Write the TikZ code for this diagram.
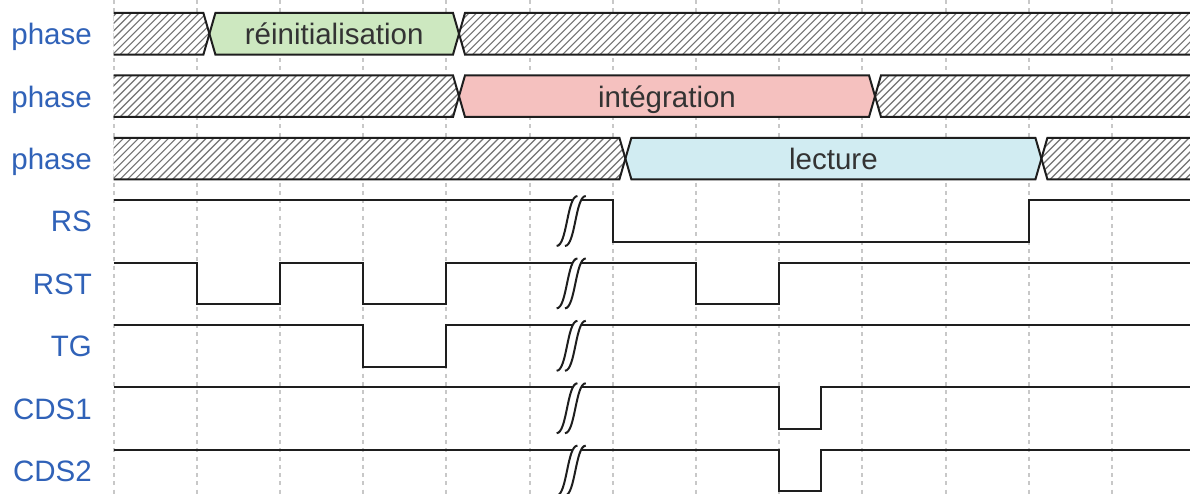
\documentclass[tikz,border=0pt]{standalone}
\usepackage{fontspec}
\setmainfont{Liberation Sans}
\definecolor{lblblue}{RGB}{48,98,184}
\definecolor{grn}{RGB}{205,232,192}
\definecolor{pnk}{RGB}{245,193,191}
\definecolor{blu}{RGB}{209,236,242}
\definecolor{gridc}{RGB}{200,200,200}
\definecolor{wavec}{RGB}{30,30,30}
\tikzset{
  lbl/.style={anchor=base east, inner sep=0pt, text=lblblue, font=\fontsize{29.5}{32}\selectfont},
  boxtxt/.style={anchor=base, inner sep=0pt, text=black!80, font=\fontsize{29.5}{32}\selectfont},
  gridline/.style={draw=gridc, line width=2pt, dash pattern=on 4pt off 4.3pt},
  wave/.style={draw=wavec, line width=2pt, line join=miter},
  hatchline/.style={draw=black!55, line width=1.2pt},
  outline/.style={draw=wavec, line width=2pt, line join=miter},
}
\newcommand{\hatchfill}[2]{%
  \begin{scope}
    \clip #1;
    \fill[white] (0,#2) rectangle (1200,{#2+41.6});
    \foreach \i in {-8,...,162} \draw[hatchline] ({\i*7.5},{#2+41.6}) -- ({\i*7.5+41.6},{#2});
  \end{scope}}
\newcommand{\gapsym}[1]{%
  \fill[white] (585.76,{#1-4.16}) -- (577.44,{#1-4.16}) .. controls (567.04,{#1-4.16}) and (567.04,{#1+45.76}) .. (556.64,{#1+45.76}) -- (564.96,{#1+45.76}) .. controls (575.36,{#1+45.76}) and (575.36,{#1-4.16}) .. (585.76,{#1-4.16}) -- cycle;
  \draw[wave] (556.64,{#1+45.76}) .. controls (567.04,{#1+45.76}) and (567.04,{#1-4.16}) .. (577.44,{#1-4.16});
  \draw[wave] (564.96,{#1+45.76}) .. controls (575.36,{#1+45.76}) and (575.36,{#1-4.16}) .. (585.76,{#1-4.16});}
\begin{document}
\begin{tikzpicture}[x=1pt,y=-1pt]
\useasboundingbox (0,0) rectangle (1190,494);
\clip (0,0) rectangle (1190,494);
\fill[white] (0,0) rectangle (1190,494);
% grid
\foreach \k in {0,...,12} \draw[gridline] ({113.6+83.2*\k},0) -- ({113.6+83.2*\k},494);
% ---- row 0 : reinitialisation
\hatchfill{(113.6,13) -- (203.4,13) -- (209.4,33.8) -- (203.4,54.6) -- (113.6,54.6) -- cycle}{13}
\fill[grn] (215.4,13) -- (453,13) -- (459,33.8) -- (453,54.6) -- (215.4,54.6) -- (209.4,33.8) -- cycle;
\hatchfill{(465,13) -- (1200,13) -- (1200,54.6) -- (465,54.6) -- (459,33.8) -- cycle}{13}
\draw[outline] (113.6,13) -- (203.4,13) -- (209.4,33.8) -- (203.4,54.6) -- (113.6,54.6);
\draw[outline] (215.4,13) -- (453,13) -- (459,33.8) -- (453,54.6) -- (215.4,54.6) -- (209.4,33.8) -- cycle;
\draw[outline] (1200,13) -- (465,13) -- (459,33.8) -- (465,54.6) -- (1200,54.6);
\node[boxtxt] (t0) at (334.2,44.8) {réinitialisation};
% ---- row 1 : integration
\hatchfill{(113.6,75.4) -- (453,75.4) -- (459,96.2) -- (453,117) -- (113.6,117) -- cycle}{75.4}
\fill[pnk] (465,75.4) -- (869,75.4) -- (875,96.2) -- (869,117) -- (465,117) -- (459,96.2) -- cycle;
\hatchfill{(881,75.4) -- (1200,75.4) -- (1200,117) -- (881,117) -- (875,96.2) -- cycle}{75.4}
\draw[outline] (113.6,75.4) -- (453,75.4) -- (459,96.2) -- (453,117) -- (113.6,117);
\draw[outline] (465,75.4) -- (869,75.4) -- (875,96.2) -- (869,117) -- (465,117) -- (459,96.2) -- cycle;
\draw[outline] (1200,75.4) -- (881,75.4) -- (875,96.2) -- (881,117) -- (1200,117);
\node[boxtxt] (t1) at (667,107.2) {intégration};
% ---- row 2 : lecture
\hatchfill{(113.6,137.8) -- (619.4,137.8) -- (625.4,158.6) -- (619.4,179.4) -- (113.6,179.4) -- cycle}{137.8}
\fill[blu] (631.4,137.8) -- (1035.4,137.8) -- (1041.4,158.6) -- (1035.4,179.4) -- (631.4,179.4) -- (625.4,158.6) -- cycle;
\hatchfill{(1047.4,137.8) -- (1200,137.8) -- (1200,179.4) -- (1047.4,179.4) -- (1041.4,158.6) -- cycle}{137.8}
\draw[outline] (113.6,137.8) -- (619.4,137.8) -- (625.4,158.6) -- (619.4,179.4) -- (113.6,179.4);
\draw[outline] (631.4,137.8) -- (1035.4,137.8) -- (1041.4,158.6) -- (1035.4,179.4) -- (631.4,179.4) -- (625.4,158.6) -- cycle;
\draw[outline] (1200,137.8) -- (1047.4,137.8) -- (1041.4,158.6) -- (1047.4,179.4) -- (1200,179.4);
\node[boxtxt] (t2) at (833.4,169.6) {lecture};
% ---- waves
% RS
\draw[wave] (113.6,200.2) -- (612.8,200.2) -- (612.8,241.8) -- (1028.8,241.8) -- (1028.8,200.2) -- (1200,200.2);
% RST
\draw[wave] (113.6,262.6) -- (196.8,262.6) -- (196.8,304.2) -- (280,304.2) -- (280,262.6) -- (363.2,262.6) -- (363.2,304.2) -- (446.4,304.2) -- (446.4,262.6) -- (696,262.6) -- (696,304.2) -- (779.2,304.2) -- (779.2,262.6) -- (1200,262.6);
% TG
\draw[wave] (113.6,325) -- (363.2,325) -- (363.2,366.6) -- (446.4,366.6) -- (446.4,325) -- (1200,325);
% CDS1
\draw[wave] (113.6,387.4) -- (779.2,387.4) -- (779.2,429) -- (820.8,429) -- (820.8,387.4) -- (1200,387.4);
% CDS2
\draw[wave] (113.6,449.8) -- (779.2,449.8) -- (779.2,491.4) -- (820.8,491.4) -- (820.8,449.8) -- (1200,449.8);
% gaps
\gapsym{200.2}
\gapsym{262.6}
\gapsym{325}
\gapsym{387.4}
\gapsym{449.8}
% labels
\node[lbl] (l0) at (92,44.8) {phase};
\node[lbl] (l1) at (92,107.2) {phase};
\node[lbl] (l2) at (92,169.6) {phase};
\node[lbl] (l3) at (92,232) {RS};
\node[lbl] (l4) at (92,294.4) {RST};
\node[lbl] (l5) at (92,356.8) {TG};
\node[lbl] (l6) at (92,419.2) {CDS1};
\node[lbl] (l7) at (92,481.6) {CDS2};
\end{tikzpicture}
\end{document}
